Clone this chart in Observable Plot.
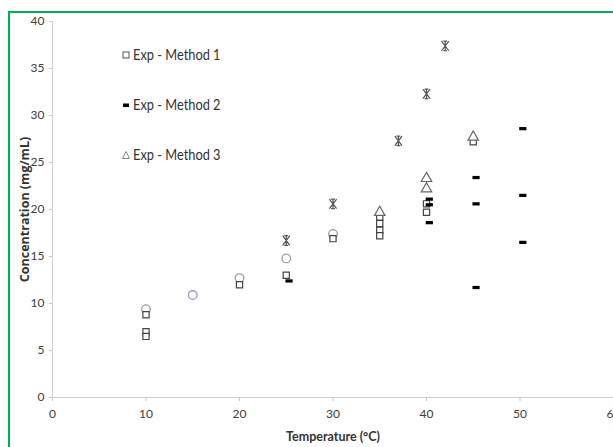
<!DOCTYPE html>
<html><head><meta charset="utf-8">
<script src="https://cdn.jsdelivr.net/npm/d3@7"></script>
<script src="https://cdn.jsdelivr.net/npm/@observablehq/plot@0.6"></script>
<style>
html,body{margin:0;padding:0;background:#fff;}
#wrap{position:relative;width:613px;height:447px;overflow:hidden;}
#chart{position:absolute;left:0;top:0;}
#frame{position:absolute;left:8px;top:11px;width:700px;height:600px;border-left:2px solid #00b050;border-top:2px solid #00b050;z-index:5;pointer-events:none;}
.leg{position:absolute;left:121px;height:20px;line-height:20px;font-family:Lato,sans-serif;font-size:16px;color:#333;white-space:nowrap;}
.leg svg{vertical-align:middle;margin-right:2px;position:relative;top:-1px;}
.leg span{display:inline-block;transform:scaleX(0.8);transform-origin:left center;}
</style></head><body>
<div id="wrap"><div id="chart"></div><div id="frame"></div>
<div class="leg" style="top:44px"><svg width="10" height="10"><rect x="2" y="2" width="6" height="6" fill="none" stroke="#555" stroke-width="1"/></svg><span>Exp - Method 1</span></div>
<div class="leg" style="top:94px"><svg width="10" height="10"><rect x="2" y="3.5" width="6" height="3.5" fill="#000"/></svg><span>Exp - Method 2</span></div>
<div class="leg" style="top:144px"><svg width="10" height="10"><path d="M5,1.5L8.5,8.5L1.5,8.5Z" fill="none" stroke="#888" stroke-width="1"/></svg><span>Exp - Method 3</span></div>
</div>
<script>
// Exp - Method 1 (open squares)
const m1X = [10, 10, 10, 20, 25, 30, 35, 35, 35, 35, 40, 40, 45];
const m1Y = [8.8, 7.0, 6.5, 12.0, 13.0, 16.9, 19.2, 18.5, 17.8, 17.2, 20.6, 19.7, 27.2];
// Exp - Method 2 (black dashes)
const m2X = [25.3, 40.3, 40.3, 40.3, 45.3, 45.3, 45.3, 50.3, 50.3, 50.3];
const m2Y = [12.4, 21.1, 20.5, 18.6, 23.4, 20.6, 11.7, 28.6, 21.5, 16.5];
// Exp - Method 3 (open triangles)
const m3X = [35, 40, 40, 45];
const m3Y = [19.7, 23.3, 22.2, 27.7];
// unlabelled series: circles
const s4X = [10, 15, 20, 25, 30];
const s4Y = [9.4, 10.9, 12.7, 14.8, 17.4];
// unlabelled series: stars
const s5X = [25, 30, 37, 40, 42];
const s5Y = [16.7, 20.6, 27.3, 32.3, 37.4];

const xTicks = [0, 10, 20, 30, 40, 50, 60];
const yTicks = [0, 5, 10, 15, 20, 25, 30, 35, 40];
const xTitle = "Temperature (°C)";
const yTitle = "Concentration (mg/mL)";

const pts = (xs, ys) => xs.map((x, i) => ({x, y: ys[i]}));
const dash = {draw(ctx, size) { const r = Math.sqrt(size / Math.PI); ctx.rect(-r, -r * 0.45, 2 * r, r * 0.9); }};
const star = {draw(ctx, size) {
  const r = Math.sqrt(size / Math.PI);
  ctx.moveTo(-r * 0.75, -r); ctx.lineTo(r * 0.75, r);
  ctx.moveTo(r * 0.75, -r); ctx.lineTo(-r * 0.75, r);
  ctx.moveTo(0, -r * 0.9); ctx.lineTo(0, r * 0.9);
  ctx.moveTo(-r * 0.4, -r); ctx.lineTo(r * 0.4, -r);
  ctx.moveTo(-r * 0.4, r); ctx.lineTo(r * 0.4, r);
}};

const chart = Plot.plot({
  width: 613, height: 447,
  marginLeft: 52, marginRight: 0, marginTop: 21, marginBottom: 50,
  style: {background: "transparent", fontFamily: "Lato, sans-serif", fontSize: "12px", color: "#404040", overflow: "visible"},
  x: {domain: [0, 60]},
  y: {domain: [0, 40]},
  marks: [
    Plot.ruleY([0], {stroke: "#d0d0d0"}),
    Plot.ruleX([0], {stroke: "#d0d0d0"}),
    Plot.axisX({ticks: xTicks, tickSize: 4, tickPadding: 8, stroke: "#c8c8c8", fill: "#404040", label: null, tickFormat: d => d}),
    Plot.axisY({ticks: yTicks, tickSize: 3, tickPadding: 5, stroke: "#c8c8c8", fill: "#404040", label: null, tickFormat: d => d}),
    Plot.text([xTitle], {frameAnchor: "bottom", lineAnchor: "middle", dy: 39, fontWeight: "bold", fontSize: 12.5, fill: "#333"}),
    Plot.text([yTitle], {frameAnchor: "left", textAnchor: "middle", lineAnchor: "middle", dx: -28, rotate: -90, fontWeight: "bold", fontSize: 12.5, fill: "#333", fontFamily: '"Open Sans",sans-serif'}),
    Plot.dot(pts(s4X, s4Y), {x: "x", y: "y", symbol: "circle", r: 4.3, stroke: "#a597b5", strokeWidth: 1.3, fill: "white"}),
    Plot.dot(pts(m1X, m1Y), {x: "x", y: "y", symbol: "square", r: 3.5, stroke: "#444", strokeWidth: 1.2, fill: "white"}),
    Plot.dot(pts(m3X, m3Y), {x: "x", y: "y", symbol: "triangle", r: 3.9, stroke: "#666", strokeWidth: 1.2, fill: "white"}),
    Plot.dot(pts(m2X, m2Y), {x: "x", y: "y", symbol: dash, r: 3.6, fill: "#000", stroke: "none"}),
    Plot.dot(pts(s5X, s5Y), {x: "x", y: "y", symbol: star, r: 4.8, stroke: "#555", strokeWidth: 1.2, fill: "none"})
  ]
});
document.getElementById("chart").appendChild(chart);
</script>
</body></html>
